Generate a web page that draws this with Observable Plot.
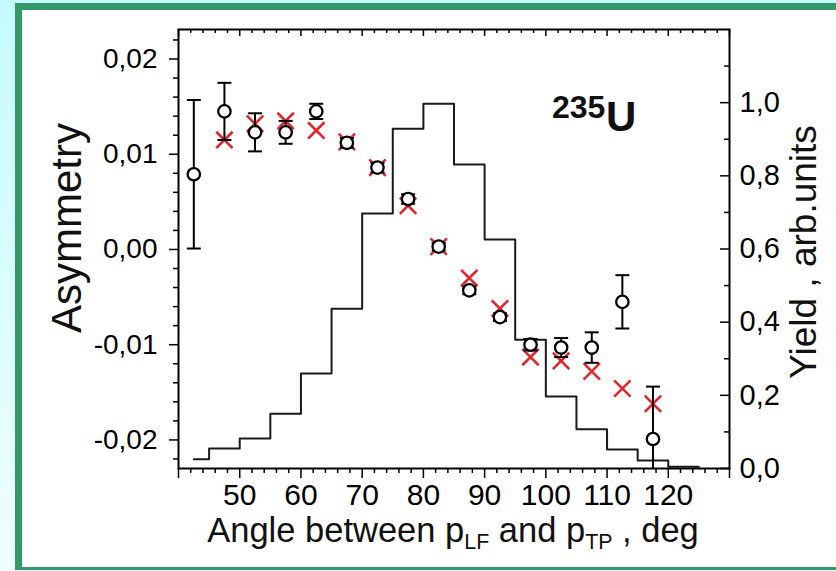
<!DOCTYPE html>
<html><head><meta charset="utf-8">
<script src="https://cdn.jsdelivr.net/npm/d3@7"></script>
<script src="https://cdn.jsdelivr.net/npm/@observablehq/plot@0.6"></script>
<style>
html,body{margin:0;padding:0;width:836px;height:571px;overflow:hidden;}
body{background:linear-gradient(#c6fbfb,#effefe);position:relative;font-family:"Liberation Sans",Arial,sans-serif;}
#panel{position:absolute;left:15px;top:3px;width:900px;height:567px;background:#fff;border-left:7px solid #339966;border-top:7px solid #339966;border-bottom:3px solid #339966;box-sizing:border-box;}
#chart{position:absolute;left:0;top:0;}
.lbl{position:absolute;color:#111;white-space:nowrap;line-height:1;}
.rot{transform:translate(-50%,-50%) rotate(-90deg);}
</style></head><body>
<div id="panel"></div>
<div id="chart"></div>
<div class="lbl rot" style="left:67px;top:228px;font-size:42px;">Asymmetry</div>
<div class="lbl rot" style="left:803px;top:252px;font-size:37px;">Yield , arb.units</div>
<div class="lbl" style="left:453px;top:517px;font-size:34.5px;line-height:0.8;transform:translateX(-50%);">Angle between p<span style="font-size:0.62em;vertical-align:-0.35em">LF</span> and p<span style="font-size:0.62em;vertical-align:-0.35em">TP</span> , deg</div>
<div class="lbl" style="left:552px;top:91px;font-size:32px;font-weight:bold;">235</div>
<div class="lbl" style="left:606px;top:96px;font-size:42px;font-weight:bold;">U</div>
<script>
// ---- data ----
const angles = [42.5, 47.5, 52.5, 57.5, 62.5, 67.5, 72.5, 77.5, 82.5, 87.5, 92.5, 97.5, 102.5, 107.5, 112.5, 117.5];
const asymmetry = [0.0079, 0.0145, 0.0123, 0.0123, 0.0145, 0.0112, 0.0086, 0.0053, 0.0003, -0.0043, -0.0071, -0.0100, -0.0103, -0.0103, -0.0055, -0.0199];
const asymErr = [0.0078, 0.0030, 0.0020, 0.0012, 0.0008, 0.0005, 0.0005, 0.0005, 0.0004, 0.0004, 0.0004, 0.0006, 0.0010, 0.0016, 0.0028, 0.0055];
const crossAngles = [47.5, 52.5, 57.5, 62.5, 67.5, 72.5, 77.5, 82.5, 87.5, 92.5, 97.5, 102.5, 107.5, 112.5, 117.5];
const crossValues = [0.0115, 0.0132, 0.0135, 0.0125, 0.0113, 0.0086, 0.0046, 0.0003, -0.0030, -0.0062, -0.0113, -0.0117, -0.0128, -0.0146, -0.0162];
const binLeft = [42.5, 45, 50, 55, 60, 65, 70, 75, 80, 85, 90, 95, 100, 105, 110, 115, 120];
const binEnd = 125;
const yieldValues = [0.025, 0.055, 0.082, 0.150, 0.260, 0.437, 0.697, 0.929, 0.997, 0.831, 0.626, 0.352, 0.197, 0.107, 0.052, 0.022, 0.005];
const xLabelTicks = [50, 60, 70, 80, 90, 100, 110, 120];
const asymTicks = [-0.02, -0.01, 0, 0.01, 0.02];
const yieldTicks = [0, 0.2, 0.4, 0.6, 0.8, 1.0];
const yieldMinorTicks = [0.1, 0.3, 0.5, 0.7, 0.9, 1.1];

// ---- scales ----
const X0 = 40, X1 = 130;
const Y0 = -0.023, Y1 = 0.0231, YIELD_MAX = 1.2;
const toAsym = v => Y0 + v / YIELD_MAX * (Y1 - Y0);
const fromAsym = a => (a - Y0) / (Y1 - Y0) * YIELD_MAX;

const xMajorAll = d3.range(X0, X1 + 1, 10);
const xMinor = d3.range(X0, X1 + 1, 2).filter(d => d % 10 !== 0);
const yMinor = d3.range(-22, 23, 2).filter(d => d % 10 !== 0).map(d => d / 1000);

const fmtAsym = d => (d < -1e-9 ? "-" : "") + Math.abs(d).toFixed(2).replace(".", ",");
const fmtYield = d => fromAsym(d).toFixed(1).replace(".", ",");

const pts = angles.map((a, i) => ({x: a, y: asymmetry[i], e: asymErr[i]}));
const caps = pts.flatMap(d => [{x: d.x, y: d.y - d.e}, {x: d.x, y: d.y + d.e}]);
const crosses = crossAngles.map((a, i) => ({x: a, y: crossValues[i]}));
const hist = binLeft.map((x, i) => ({x, y: toAsym(yieldValues[i])}))
  .concat([{x: binEnd, y: toAsym(yieldValues[yieldValues.length - 1])}]);

const capSymbol = {draw(ctx, size) { const w = Math.sqrt(size / Math.PI); ctx.moveTo(-w, 0); ctx.lineTo(w, 0); }};
const none = () => "";

const chart = Plot.plot({
  width: 836, height: 571,
  marginLeft: 178, marginTop: 29, marginRight: 107, marginBottom: 103,
  style: {background: "transparent", fontFamily: "Liberation Sans, Arial, sans-serif", color: "black", overflow: "visible"},
  x: {domain: [X0, X1]},
  y: {domain: [Y0, Y1]},
  marks: [
    Plot.line(hist, {x: "x", y: "y", curve: "step-after", stroke: "#1a1a1a", strokeWidth: 2}),
    Plot.dot(crosses, {x: "x", y: "y", symbol: "times", r: 7.5, stroke: "#e3262b", strokeWidth: 2.6}),
    Plot.ruleX(pts, {x: "x", y1: d => d.y - d.e, y2: d => d.y + d.e, stroke: "black", strokeWidth: 2, clip: true}),
    Plot.dot(caps, {x: "x", y: "y", symbol: capSymbol, r: 7, fill: "none", stroke: "black", strokeWidth: 2, clip: true}),
    Plot.dot(pts, {x: "x", y: "y", r: 6.2, fill: "white", stroke: "black", strokeWidth: 2.3}),
    // bottom axis (outward)
    Plot.axisX({anchor: "bottom", ticks: xMajorAll, tickSize: 10, tickFormat: none, label: null, strokeWidth: 1.5}),
    Plot.axisX({anchor: "bottom", ticks: xMinor, tickSize: 5, tickFormat: none, label: null, strokeWidth: 1.5}),
    Plot.axisX({anchor: "bottom", ticks: xLabelTicks, tickSize: 0, tickPadding: 15.5, fontSize: 30, tickFormat: d => String(d), label: null}),
    // top axis (inward)
    Plot.axisX({anchor: "bottom", frameAnchor: "top", ticks: xMajorAll, tickSize: 7, tickFormat: none, label: null, strokeWidth: 1.5}),
    Plot.axisX({anchor: "bottom", frameAnchor: "top", ticks: xMinor, tickSize: 4, tickFormat: none, label: null, strokeWidth: 1.5}),
    // left axis (outward)
    Plot.axisY({anchor: "left", ticks: asymTicks, tickSize: 9, tickFormat: none, label: null, strokeWidth: 1.5}),
    Plot.axisY({anchor: "left", ticks: yMinor, tickSize: 5, tickFormat: none, label: null, strokeWidth: 1.5}),
    Plot.axisY({anchor: "left", ticks: asymTicks, tickSize: 0, tickPadding: 21, fontSize: 28, tickFormat: fmtAsym, label: null}),
    // right yield axis (inward ticks)
    Plot.axisY({anchor: "left", frameAnchor: "right", ticks: yieldTicks.map(toAsym), tickSize: 9, tickFormat: none, label: null, strokeWidth: 1.5}),
    Plot.axisY({anchor: "left", frameAnchor: "right", ticks: yieldMinorTicks.map(toAsym), tickSize: 5, tickFormat: none, label: null, strokeWidth: 1.5}),
    Plot.axisY({anchor: "right", ticks: yieldTicks.map(toAsym), tickSize: 0, tickPadding: 10, fontSize: 29, tickFormat: fmtYield, label: null}),
    Plot.frame({stroke: "black", strokeWidth: 2})
  ]
});
document.getElementById("chart").append(chart);
</script>
</body></html>
